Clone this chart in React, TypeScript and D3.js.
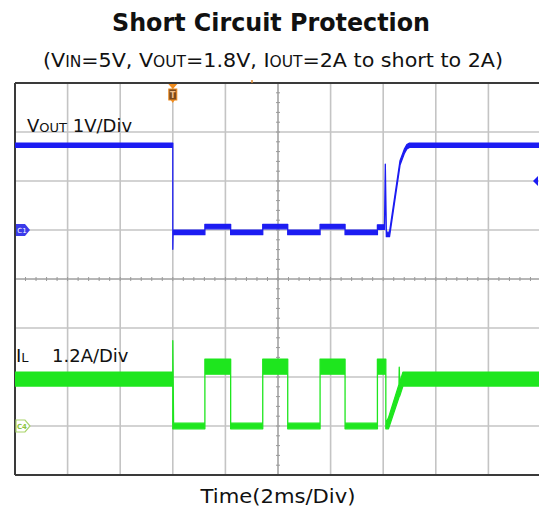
import React from "react";
import * as d3 from "d3";

// ---------- data ----------
// time axis: ms, 2 ms/div, 10 divisions
const timeTicks = [0, 2, 4, 6, 8, 10, 12, 14, 16, 18, 20];
// VOUT axis: 1 V/div, ground (C1) at 0 V
const voltTicks = [-5, -4, -3, -2, -1, 0, 1, 2, 3];
// IL axis: 1.2 A/div, ground (C4) at 0 A
const ampDomain = [-1.2, 8.4];

// VOUT trace (time ms, volts)
const voutT = [0, 6.0, 6.0, 6.01, 7.22, 7.22, 8.2, 8.2, 9.42, 9.42, 10.37, 10.37, 11.6, 11.6, 12.55, 12.55, 13.78, 13.78, 14.05, 14.08, 14.12, 14.24, 14.64, 14.8, 14.9, 15.0, 20];
const voutV = [1.73, 1.73, -0.35, -0.05, -0.05, 0.07, 0.07, -0.05, -0.05, 0.07, 0.07, -0.05, -0.05, 0.07, 0.07, -0.05, -0.05, 0.06, 0.06, 1.3, -0.09, -0.09, 1.37, 1.6, 1.7, 1.73, 1.73];

// IL trace envelope (time ms, low A, high A)
const ilT = [0, 6.0, 6.0, 6.03, 7.22, 7.22, 8.2, 8.2, 9.42, 9.42, 10.37, 10.37, 11.6, 11.6, 12.55, 12.55, 13.78, 13.78, 14.1, 14.1, 14.2, 14.6, 14.61, 14.63, 14.75, 20];
const ilLo = [0.98, 0.98, -0.07, -0.07, -0.07, 1.27, 1.27, -0.07, -0.07, 1.27, 1.27, -0.07, -0.07, 1.27, 1.27, -0.07, -0.07, 1.27, 1.27, -0.07, -0.07, 0.7, 0.72, 0.74, 0.98, 0.98];
const ilHi = [1.32, 1.32, 2.09, 0.07, 0.07, 1.64, 1.64, 0.07, 0.07, 1.64, 1.64, 0.07, 0.07, 1.64, 1.64, 0.07, 0.07, 1.64, 1.64, 0.07, 0.2, 1.02, 1.44, 1.06, 1.32, 1.32];

const triggerTime = 6.0;
const triggerLevel = 1.0;

// ---------- layout ----------
const W = 539;
const H = 516;
const plot = { left: 15, right: 541, top: 83, bottom: 475 };
const BLUE = "#1c1cf2";
const GREEN = "#1ee61e";
const GRID = "#c4c4c4";

export default function App() {
  const x = d3.scaleLinear().domain([0, 20]).range([plot.left, plot.right]);
  const yV = d3.scaleLinear().domain([-5, 3]).range([plot.bottom, plot.top]);
  const yI = d3.scaleLinear().domain(ampDomain).range([plot.bottom, plot.top]);

  const voutBand = 0.045;
  const voutArea = d3
    .area<number>()
    .x((_, i) => x(voutT[i]))
    .y0((_, i) => yV(voutV[i] - voutBand))
    .y1((_, i) => yV(voutV[i] + voutBand));
  const voutPath = voutArea(voutV) || "";

  const ilArea = d3
    .area<number>()
    .x((_, i) => x(ilT[i]))
    .y0((_, i) => yI(ilLo[i]))
    .y1((_, i) => yI(ilHi[i]));
  const ilPath = ilArea(ilT) || "";

  const cx = x(10);
  const cy = yV(-1);
  const minorV = d3.range(-5, 3.001, 0.2);
  const minorT = d3.range(0, 20.001, 0.4);

  const c1y = yV(0);
  const c4y = yI(0);
  const trigX = x(triggerTime);
  const trigY = yV(triggerLevel);

  const sans = "'DejaVu Sans', Verdana, sans-serif";

  return (
    <svg
      width={W}
      height={H}
      style={{ position: "absolute", left: 0, top: 0, background: "#fff" }}
    >
      <defs>
        <clipPath id="plotclip">
          <rect x={plot.left} y={plot.top} width={plot.right - plot.left} height={plot.bottom - plot.top} />
        </clipPath>
      </defs>

      {/* titles */}
      <text x={271} y={31} textAnchor="middle" fontFamily={sans} fontWeight="bold" fontSize={25} fill="#111" textLength={318} lengthAdjust="spacingAndGlyphs">
        Short Circuit Protection
      </text>
      <text x={273} y={67} textAnchor="middle" fontFamily={sans} fontSize={20} fill="#111" textLength={460} lengthAdjust="spacingAndGlyphs">
        (V<tspan fontSize={15}>IN</tspan>=5V, V<tspan fontSize={15}>OUT</tspan>=1.8V, I<tspan fontSize={15}>OUT</tspan>=2A to short to 2A)
      </text>

      {/* grid */}
      <g stroke={GRID} strokeWidth={1.6}>
        {timeTicks.slice(1).map((t) => (
          <line key={"vx" + t} x1={x(t)} x2={x(t)} y1={plot.top} y2={plot.bottom} />
        ))}
        {voltTicks.slice(1, -1).map((v) => (
          <line key={"hy" + v} x1={plot.left} x2={plot.right} y1={yV(v)} y2={yV(v)} />
        ))}
      </g>
      <g stroke="#9a9a9a" strokeWidth={1}>
        <line x1={cx} x2={cx} y1={plot.top} y2={plot.bottom} />
        <line x1={plot.left} x2={plot.right} y1={cy} y2={cy} />
        {minorV.map((v, i) => (
          <line key={"mv" + i} x1={cx - 2} x2={cx + 2} y1={yV(v)} y2={yV(v)} />
        ))}
        {minorT.map((t, i) => (
          <line key={"mt" + i} x1={x(t)} x2={x(t)} y1={cy - 2} y2={cy + 2} />
        ))}
      </g>

      {/* frame */}
      <g stroke="#3a3a3a" strokeWidth={2}>
        <line x1={plot.left} x2={W} y1={plot.top} y2={plot.top} />
        <line x1={plot.left} x2={W} y1={plot.bottom} y2={plot.bottom} />
        <line x1={plot.left} x2={plot.left} y1={plot.top} y2={plot.bottom} />
      </g>

      {/* traces */}
      <g clipPath="url(#plotclip)">
        <path d={voutPath} fill={BLUE} stroke={BLUE} strokeWidth={1.3} strokeLinejoin="round" />
        <path d={ilPath} fill={GREEN} stroke={GREEN} strokeWidth={1.3} strokeLinejoin="round" />
      </g>

      {/* trace labels */}
      <text x={27} y={132} fontFamily={sans} fontSize={18} fill="#111">
        V<tspan fontSize={13}>OUT</tspan> 1V/Div
      </text>
      <text x={16} y={362} fontFamily={sans} fontSize={18} fill="#111">
        I<tspan fontSize={13}>L</tspan>
      </text>
      <text x={52} y={362} fontFamily={sans} fontSize={18} fill="#111">
        1.2A/Div
      </text>

      {/* channel markers */}
      <path
        d={`M${plot.left + 1},${c1y - 6} L${plot.left + 10},${c1y - 6} L${plot.left + 15},${c1y} L${plot.left + 10},${c1y + 6} L${plot.left + 1},${c1y + 6} Z`}
        fill="#3b3bea"
      />
      <text x={plot.left + 7} y={c1y + 2.5} textAnchor="middle" fontFamily={sans} fontSize={7} fill="#fff">
        C1
      </text>
      <path
        d={`M${plot.left + 1},${c4y - 6} L${plot.left + 10},${c4y - 6} L${plot.left + 15},${c4y} L${plot.left + 10},${c4y + 6} L${plot.left + 1},${c4y + 6} Z`}
        fill="#fff"
        stroke="#a9d46a"
        strokeWidth={1.2}
      />
      <text x={plot.left + 7} y={c4y + 2.5} textAnchor="middle" fontFamily={sans} fontSize={7} fontWeight="bold" fill="#8cc63f">
        C4
      </text>

      {/* trigger level arrow */}
      <path d={`M${W - 6},${trigY} L${W - 1},${trigY - 5} L${W - 1},${trigY + 5} Z`} fill={BLUE} />

      {/* trigger position marker */}
      <path d={`M${trigX - 4.5},${plot.top + 1} L${trigX + 4.5},${plot.top + 1} L${trigX},${plot.top + 6} Z`} fill="#f08c1e" />
      <rect x={trigX - 4} y={plot.top + 6} width={8} height={11} fill="#7a4a1e" stroke="#f08c1e" strokeWidth={1} />
      <text x={trigX} y={plot.top + 15} textAnchor="middle" fontFamily={sans} fontSize={8} fontWeight="bold" fill="#f3c08a">
        T
      </text>
      <path d={`M${trigX - 2},${plot.top + 17} L${trigX + 2},${plot.top + 17} L${trigX},${plot.top + 20} Z`} fill="#f08c1e" />
      <line x1={252} x2={252} y1={plot.top - 3} y2={plot.top} stroke="#e08a30" strokeWidth={1.5} />

      {/* x-axis label */}
      <text x={278} y={503} textAnchor="middle" fontFamily={sans} fontSize={20} fill="#111" textLength={155} lengthAdjust="spacingAndGlyphs">
        Time(2ms/Div)
      </text>
    </svg>
  );
}
